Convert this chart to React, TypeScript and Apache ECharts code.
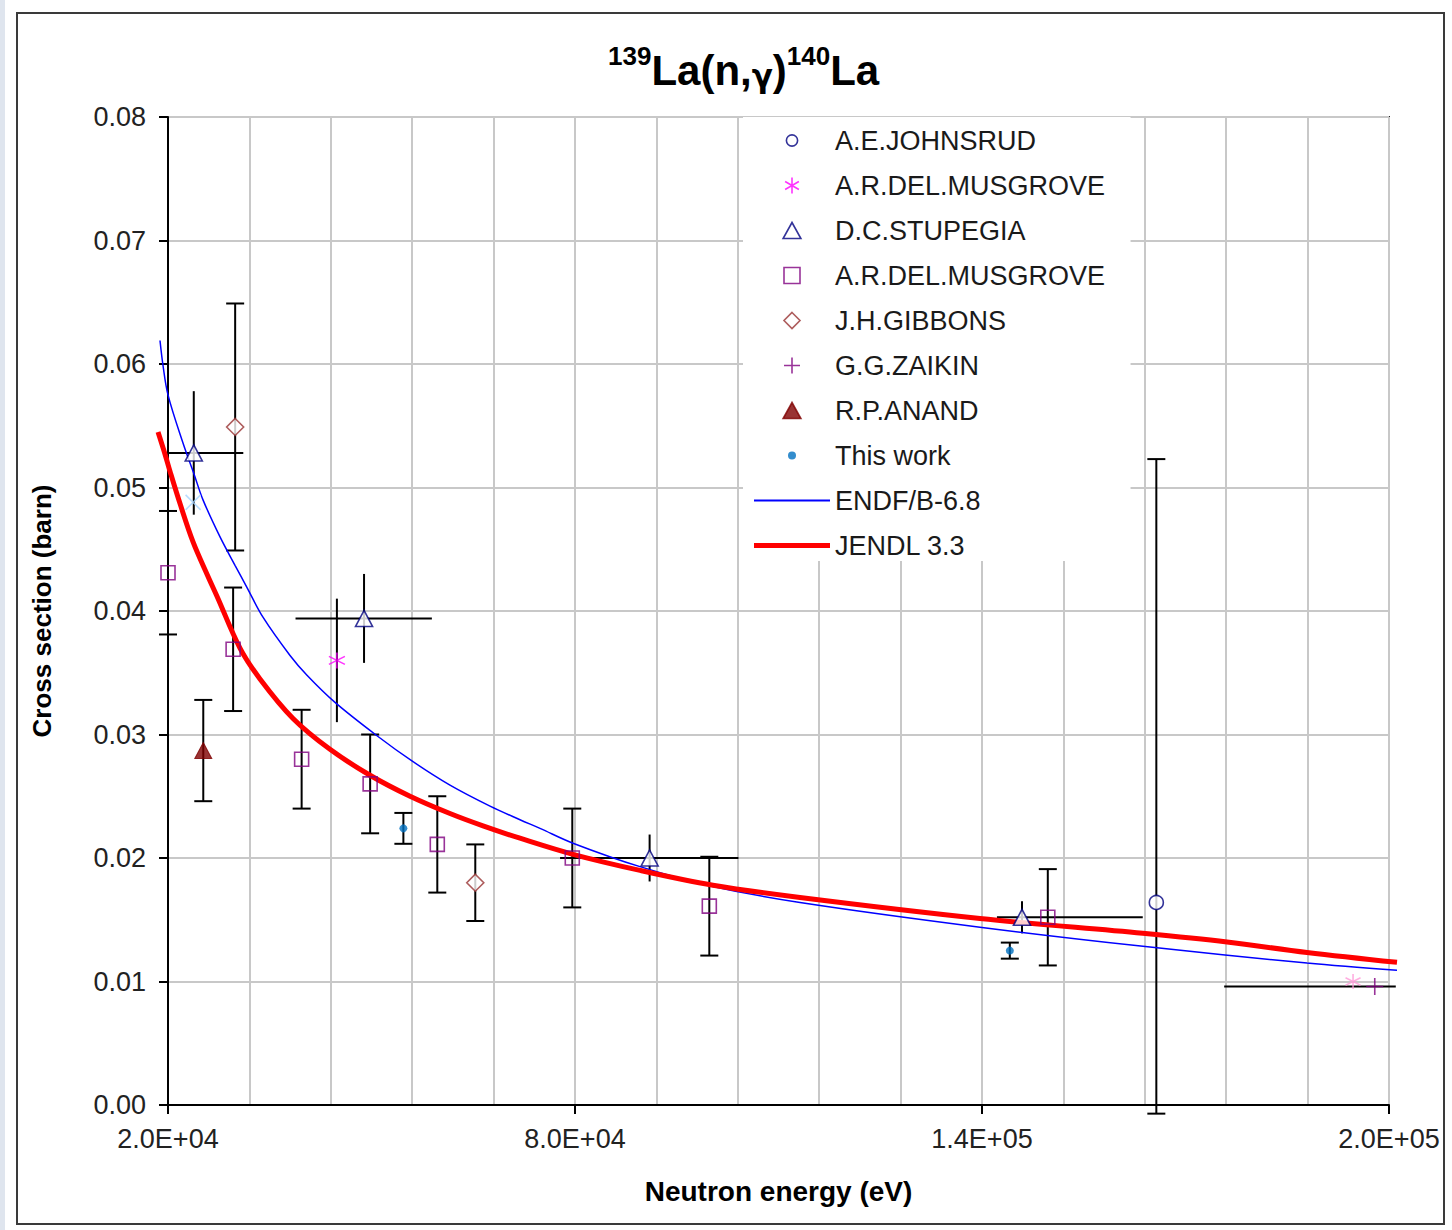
import React, { useEffect, useRef } from 'react';
import * as echarts from 'echarts';

// ---------------- data ----------------
// Evaluated curves
const endfEnergy = [18820, 19260, 20000, 22210, 23830, 25160, 27670, 29880, 31650, 34000, 37990, 40490, 44620, 50810, 56120, 61570, 67470, 71890, 74840, 79700, 89580, 100340, 113170, 139700, 163730, 187910, 201180];
const endfXs = [0.0619, 0.0599, 0.0575, 0.0536, 0.0511, 0.0490, 0.0460, 0.0437, 0.0419, 0.0395, 0.0364, 0.0348, 0.0326, 0.0299, 0.0278, 0.0259, 0.0242, 0.0231, 0.0224, 0.0212, 0.0193, 0.0177, 0.0164, 0.01440, 0.01285, 0.01149, 0.01091];

const jendlEnergy = [18530, 19560, 20300, 21770, 23690, 25900, 27220, 30610, 33560, 38430, 43880, 49780, 55680, 61570, 66440, 71890, 79700, 89580, 100340, 113170, 139700, 163700, 176120, 187910, 201180];
const jendlXs = [0.0545, 0.0527, 0.0513, 0.0487, 0.0456, 0.0428, 0.0412, 0.0370, 0.0345, 0.0313, 0.0288, 0.0267, 0.0250, 0.0236, 0.0226, 0.0216, 0.0203, 0.0190, 0.0178, 0.0168, 0.0151, 0.0139, 0.0132, 0.01235, 0.01155];

// A.E.JOHNSRUD
const johnsrudE = [165700];
const johnsrudXs = [0.0164];
const johnsrudLo = [-0.0007];
const johnsrudHi = [0.0523];

// A.R.DEL.MUSGROVE (asterisk)
const musAstE = [44900];
const musAstXs = [0.0360];
const musAstErr = [0.0050];
// pale points without error bars
const paleAstE = [194700];
const paleAstXs = [0.0100];
const paleCrossE = [23700];
const paleCrossXs = [0.0488];

// D.C.STUPEGIA
const stupE = [23800, 48900, 91000, 145900];
const stupXs = [0.0528, 0.0394, 0.0200, 0.0152];
const stupErr = [0.0050, 0.0036, 0.0019, 0.0013];
const stupELo = [20000, 38800, 77800, 142200];
const stupEHi = [31100, 58900, 104100, 163700];

// A.R.DEL.MUSGROVE (square)
const musSqE = [20000, 29600, 39700, 49800, 59700, 79600, 99800, 149700];
const musSqXs = [0.0431, 0.0369, 0.0280, 0.0260, 0.0211, 0.0200, 0.0161, 0.0152];
const musSqErr = [0.0050, 0.0050, 0.0040, 0.0040, 0.0039, 0.0040, 0.0040, 0.0039];

// J.H.GIBBONS
const gibbonsE = [29900, 65300];
const gibbonsXs = [0.0549, 0.0180];
const gibbonsErr = [0.0100, 0.0031];

// G.G.ZAIKIN
const zaikinE = [197900];
const zaikinXs = [0.0096];
const zaikinELo = [175700];
const zaikinEHi = [201000];

// R.P.ANAND
const anandE = [25200];
const anandXs = [0.0287];
const anandErr = [0.0041];

// This work
const thisE = [54700, 144100];
const thisXs = [0.0224, 0.0125];
const thisErr = [0.00125, 0.00065];

// axes
const xMin = 20000;
const xMax = 200000;
const xGridStep = 12000;
const xLabelStep = 60000;
const yMin = 0;
const yMax = 0.08;
const yStep = 0.01;
// curves run slightly past the frame of the plot: they get a wider hidden axis
const xCurveMin = 15000;
const xCurveMax = 205000;

const FONT = "'Liberation Sans', Arial, Helvetica, sans-serif";

const fmtE = (v: number) => {
  const e = Math.floor(Math.log10(v) + 1e-9);
  const m = v / Math.pow(10, e);
  return m.toFixed(1) + 'E+' + String(e).padStart(2, '0');
};

const pairs = (xs: number[], ys: number[]) => xs.map((x, i) => [x, ys[i]]);

const ASTERISK = 'path://M5,0 L5,10 M0.7,2.5 L9.3,7.5 M0.7,7.5 L9.3,2.5';
const PLUS = 'path://M5,0 L5,10 M0,5 L10,5';
const XMARK = 'path://M0,0 L10,10 M0,10 L10,0';
const TRI = 'path://M5,0 L10,9 L0,9 Z';
const SQUARE = 'path://M0,0 L10,0 L10,10 L0,10 Z';
const DIAMOND = 'path://M5,0 L10,5 L5,10 L0,5 Z';
const RING = 'path://M0,0 M20,20 M10,3 A7,7 0 1,1 10,17 A7,7 0 1,1 10,3 Z';
const SMALLDOT = 'path://M0,0 M20,20 M10,5 A5,5 0 1,1 10,15 A5,5 0 1,1 10,5 Z';
const THINBAR = 'path://M0,0 L76,0 L76,2 L0,2 Z';
const THICKBAR = 'path://M0,0 L76,0 L76,5 L0,5 Z';

// plot geometry
const PLOT_LEFT = 168;
const PLOT_TOP = 117;
const PLOT_W = 1221;
const PLOT_H = 988;
const pxPerEv = PLOT_W / (xMax - xMin);

export default function App() {
  const ref = useRef<HTMLDivElement>(null);

  useEffect(() => {
    if (!ref.current) return;
    const chart = echarts.init(ref.current, undefined, { renderer: 'svg' });

    // error bar data
    const vBars: number[][] = [];
    const addV = (E: number[], Y: number[], err: number[], cap: number) => {
      E.forEach((e, i) => vBars.push([e, Y[i] - err[i], Y[i] + err[i], cap]));
    };
    addV(musSqE, musSqXs, musSqErr, 1);
    addV(gibbonsE, gibbonsXs, gibbonsErr, 1);
    addV(anandE, anandXs, anandErr, 1);
    addV(thisE, thisXs, thisErr, 1);
    addV(stupE, stupXs, stupErr, 0);
    addV(musAstE, musAstXs, musAstErr, 0);
    johnsrudE.forEach((e, i) => vBars.push([e, johnsrudLo[i], johnsrudHi[i], 1]));

    const hBars: number[][] = [];
    stupE.forEach((_, i) => hBars.push([stupXs[i], stupELo[i], stupEHi[i]]));
    zaikinE.forEach((_, i) => hBars.push([zaikinXs[i], zaikinELo[i], zaikinEHi[i]]));

    const barStyle = { stroke: '#000', lineWidth: 2 };
    const openBorder = 1.6;

    const option: any = {
      animation: false,
      backgroundColor: '#fff',
      textStyle: { fontFamily: FONT },
      title: {
        text: '{s|139}{m|La(n,}{g|γ}{m|)}{s|140}{m|La}',
        left: 608,
        top: 43,
        padding: 0,
        textStyle: {
          rich: {
            m: { fontSize: 42, fontWeight: 'bold', fontFamily: FONT, color: '#000', lineHeight: 48, verticalAlign: 'bottom' },
            s: { fontSize: 26, fontWeight: 'bold', fontFamily: FONT, color: '#000', lineHeight: 17, verticalAlign: 'top' },
            g: { fontSize: 31, fontFamily: "'DejaVu Sans', sans-serif", color: '#000', lineHeight: 48, verticalAlign: 'bottom' },
          },
        },
      },
      graphic: [
        { type: 'rect', shape: { x: 0, y: 0, width: 5, height: 1230 }, style: { fill: '#dfe5ee' }, silent: true },
        { type: 'rect', shape: { x: 17, y: 13, width: 1427, height: 1211 }, style: { fill: 'none', stroke: '#3a3a3a', lineWidth: 2 }, silent: true },
      ],
      grid: [
        {
          left: PLOT_LEFT,
          top: PLOT_TOP,
          width: PLOT_W,
          height: PLOT_H,
          show: true,
          borderColor: '#222',
          borderWidth: 2,
          backgroundColor: 'transparent',
        },
        {
          left: PLOT_LEFT - (xMin - xCurveMin) * pxPerEv,
          top: PLOT_TOP,
          width: (xCurveMax - xCurveMin) * pxPerEv,
          height: PLOT_H,
          show: false,
        },
      ],
      legend: {
        orient: 'vertical',
        left: 743,
        top: 117,
        padding: [10, 18, 2, 11],
        backgroundColor: '#fff',
        itemWidth: 76,
        itemHeight: 16,
        itemGap: 18,
        itemStyle: { borderWidth: 1.6 },
        textStyle: { fontSize: 27, lineHeight: 27, color: '#1a1a1a', fontFamily: FONT },
        data: [
          { name: 'A.E.JOHNSRUD', icon: RING },
          { name: 'A.R.DEL.MUSGROVE', icon: ASTERISK },
          { name: 'D.C.STUPEGIA', icon: TRI },
          { name: 'A.R.DEL.MUSGROVE ', icon: SQUARE },
          { name: 'J.H.GIBBONS', icon: DIAMOND },
          { name: 'G.G.ZAIKIN', icon: PLUS },
          { name: 'R.P.ANAND', icon: TRI },
          { name: 'This work', icon: SMALLDOT, itemStyle: { borderWidth: 0 } },
          { name: 'ENDF/B-6.8', icon: THINBAR, itemStyle: { color: '#0000ff', borderWidth: 0 } },
          { name: 'JENDL 3.3', icon: THICKBAR, itemStyle: { color: '#ff0000', borderWidth: 0 } },
        ],
      },
      xAxis: [
        {
          type: 'value',
          gridIndex: 0,
          min: xMin,
          max: xMax,
          interval: xGridStep,
          position: 'bottom',
          axisLine: { show: false },
          axisTick: { show: false },
          axisLabel: { show: false },
          splitLine: { show: true, lineStyle: { color: '#c8c8c8', width: 2 } },
        },
        {
          type: 'value',
          gridIndex: 0,
          min: xMin,
          max: xMax,
          interval: xLabelStep,
          position: 'bottom',
          axisLine: { show: true, onZero: false, lineStyle: { color: '#000', width: 2 } },
          axisTick: { show: true, length: 9, lineStyle: { color: '#000', width: 2 } },
          axisLabel: { formatter: fmtE, fontSize: 27, color: '#222', margin: 20, fontFamily: FONT },
          splitLine: { show: false },
          name: 'Neutron energy (eV)',
          nameLocation: 'middle',
          nameGap: 72,
          nameTextStyle: { fontSize: 28, fontWeight: 'bold', color: '#000', fontFamily: FONT },
        },
        {
          type: 'value',
          gridIndex: 1,
          min: xCurveMin,
          max: xCurveMax,
          show: false,
        },
      ],
      yAxis: [
        {
          type: 'value',
          gridIndex: 0,
          min: yMin,
          max: yMax,
          interval: yStep,
          axisLine: { show: true, lineStyle: { color: '#000', width: 2 } },
          axisTick: { show: true, length: 9, lineStyle: { color: '#000', width: 2 } },
          axisLabel: { formatter: (v: number) => v.toFixed(2), fontSize: 27, color: '#222', margin: 22, fontFamily: FONT },
          splitLine: { show: true, lineStyle: { color: '#c8c8c8', width: 2 } },
          name: 'Cross section (barn)',
          nameLocation: 'middle',
          nameGap: 113,
          nameTextStyle: { fontSize: 26, fontWeight: 'bold', color: '#000', fontFamily: FONT },
        },
        {
          type: 'value',
          gridIndex: 1,
          min: yMin,
          max: yMax,
          show: false,
        },
      ],
      series: [
        {
          name: 'vbars',
          type: 'custom',
          xAxisIndex: 0,
          yAxisIndex: 0,
          clip: false,
          z: 1,
          silent: true,
          encode: { x: 0, y: [1, 2] },
          data: vBars,
          renderItem: (_p: any, api: any) => {
            const x = api.value(0), lo = api.value(1), hi = api.value(2), cap = api.value(3);
            const a = api.coord([x, hi]);
            const b = api.coord([x, lo]);
            const ch: any[] = [{ type: 'line', shape: { x1: a[0], y1: a[1], x2: b[0], y2: b[1] }, style: barStyle }];
            if (cap) {
              ch.push({ type: 'line', shape: { x1: a[0] - 9, y1: a[1], x2: a[0] + 9, y2: a[1] }, style: barStyle });
              ch.push({ type: 'line', shape: { x1: b[0] - 9, y1: b[1], x2: b[0] + 9, y2: b[1] }, style: barStyle });
            }
            return { type: 'group', children: ch };
          },
        },
        {
          name: 'hbars',
          type: 'custom',
          xAxisIndex: 0,
          yAxisIndex: 0,
          clip: false,
          z: 1,
          silent: true,
          encode: { x: [1, 2], y: 0 },
          data: hBars,
          renderItem: (_p: any, api: any) => {
            const y = api.value(0), lo = api.value(1), hi = api.value(2);
            const a = api.coord([lo, y]);
            const b = api.coord([hi, y]);
            return { type: 'line', shape: { x1: a[0], y1: a[1], x2: b[0], y2: b[1] }, style: barStyle };
          },
        },
        {
          name: 'ENDF/B-6.8',
          type: 'line',
          xAxisIndex: 2,
          yAxisIndex: 1,
          data: pairs(endfEnergy, endfXs),
          symbol: 'none',
          smooth: 0.35,
          z: 2,
          lineStyle: { color: '#0000ff', width: 1.5 },
          itemStyle: { color: '#0000ff' },
        },
        {
          name: 'JENDL 3.3',
          type: 'line',
          xAxisIndex: 2,
          yAxisIndex: 1,
          data: pairs(jendlEnergy, jendlXs),
          symbol: 'none',
          smooth: 0.35,
          z: 2,
          lineStyle: { color: '#ff0000', width: 5 },
          itemStyle: { color: '#ff0000' },
        },
        {
          name: 'A.E.JOHNSRUD',
          type: 'scatter',
          xAxisIndex: 0,
          data: pairs(johnsrudE, johnsrudXs),
          symbol: 'circle',
          symbolSize: 14,
          clip: false,
          z: 3,
          itemStyle: { color: '#fff', borderColor: '#000080', borderWidth: openBorder },
        },
        {
          name: 'A.R.DEL.MUSGROVE',
          type: 'scatter',
          xAxisIndex: 0,
          data: pairs(musAstE, musAstXs),
          symbol: ASTERISK,
          symbolSize: 16,
          clip: false,
          z: 3,
          itemStyle: { color: '#ff00ff', borderColor: '#ff00ff', borderWidth: openBorder },
        },
        {
          name: 'pale asterisk',
          type: 'scatter',
          xAxisIndex: 0,
          data: pairs(paleAstE, paleAstXs),
          symbol: ASTERISK,
          symbolSize: 15,
          clip: false,
          z: 3,
          itemStyle: { color: '#ff9ad8', borderColor: '#ff9ad8', borderWidth: openBorder },
        },
        {
          name: 'pale cross',
          type: 'scatter',
          xAxisIndex: 0,
          data: pairs(paleCrossE, paleCrossXs),
          symbol: XMARK,
          symbolSize: 15,
          clip: false,
          z: 3,
          itemStyle: { color: '#a8d4ff', borderColor: '#a8d4ff', borderWidth: openBorder },
        },
        {
          name: 'D.C.STUPEGIA',
          type: 'scatter',
          xAxisIndex: 0,
          data: pairs(stupE, stupXs),
          symbol: TRI,
          symbolSize: [17, 16],
          clip: false,
          z: 3,
          itemStyle: { color: '#fff', borderColor: '#000080', borderWidth: openBorder },
        },
        {
          name: 'A.R.DEL.MUSGROVE ',
          type: 'scatter',
          xAxisIndex: 0,
          data: pairs(musSqE, musSqXs),
          symbol: 'rect',
          symbolSize: 14,
          clip: false,
          z: 3,
          itemStyle: { color: 'rgba(255,255,255,0)', borderColor: '#800080', borderWidth: openBorder },
        },
        {
          name: 'J.H.GIBBONS',
          type: 'scatter',
          xAxisIndex: 0,
          data: pairs(gibbonsE, gibbonsXs),
          symbol: 'diamond',
          symbolSize: 17,
          clip: false,
          z: 3,
          itemStyle: { color: '#fff', borderColor: '#993333', borderWidth: openBorder },
        },
        {
          name: 'G.G.ZAIKIN',
          type: 'scatter',
          xAxisIndex: 0,
          data: pairs(zaikinE, zaikinXs),
          symbol: PLUS,
          symbolSize: 17,
          clip: false,
          z: 3,
          itemStyle: { color: '#800080', borderColor: '#800080', borderWidth: openBorder },
        },
        {
          name: 'R.P.ANAND',
          type: 'scatter',
          xAxisIndex: 0,
          data: pairs(anandE, anandXs),
          symbol: TRI,
          symbolSize: [17, 16],
          clip: false,
          z: 3,
          itemStyle: { color: '#800000', borderColor: '#800000', borderWidth: 1 },
        },
        {
          name: 'This work',
          type: 'scatter',
          xAxisIndex: 0,
          data: pairs(thisE, thisXs),
          symbol: 'circle',
          symbolSize: 8,
          clip: false,
          z: 3,
          itemStyle: { color: '#0070c0' },
        },
      ],
    };

    chart.setOption(option);
    return () => chart.dispose();
  }, []);

  return (
    <div
      ref={ref}
      style={{ position: 'absolute', left: 0, top: 0, width: 1452, height: 1230 }}
    />
  );
}
